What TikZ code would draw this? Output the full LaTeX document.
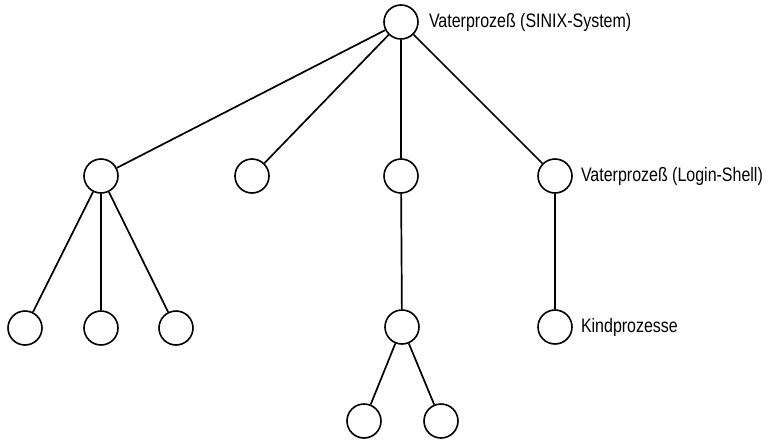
\documentclass[tikz,border=0pt]{standalone}
\usepackage{fontspec}
\setmainfont[FakeStretch=0.82]{Liberation Sans}
\usepackage{tikz}
\usetikzlibrary{positioning}

\begin{document}
\begin{tikzpicture}[
    x=1pt, y=1pt,
    proc/.style={circle, draw=black, line width=1.6pt, minimum size=34pt, inner sep=0pt},
    link/.style={line width=1.7pt, draw=black},
    lbl/.style={anchor=west, inner sep=0pt, font=\fontsize{19.5}{21}\selectfont}
]
\useasboundingbox (0,0) rectangle (769,-442);

\node[proc] (root) at (401,-22) {};
\node[proc] (a) at (101,-176) {};
\node[proc] (b) at (252,-176) {};
\node[proc] (c) at (401,-176) {};
\node[proc] (d) at (555,-176) {};
\node[proc] (a1) at (25,-328) {};
\node[proc] (a2) at (101,-328) {};
\node[proc] (a3) at (176,-328) {};
\node[proc] (c1) at (402,-327) {};
\node[proc] (d1) at (555,-327) {};
\node[proc] (c1a) at (364,-421) {};
\node[proc] (c1b) at (441,-421) {};

\node[lbl, right=10pt of root] (rootlbl) {Vaterprozeß (SINIX-System)};
\node[lbl, right=8pt of d] (dlbl) {Vaterprozeß (Login-Shell)};
\node[lbl, right=8pt of d1] (d1lbl) {Kindprozesse};

\draw[link] (root) -- (a);
\draw[link] (root) -- (b);
\draw[link] (root) -- (c);
\draw[link] (root) -- (d);
\draw[link] (a) -- (a1);
\draw[link] (a) -- (a2);
\draw[link] (a) -- (a3);
\draw[link] (c) -- (c1);
\draw[link] (d) -- (d1);
\draw[link] (c1) -- (c1a);
\draw[link] (c1) -- (c1b);

\end{tikzpicture}
\end{document}
